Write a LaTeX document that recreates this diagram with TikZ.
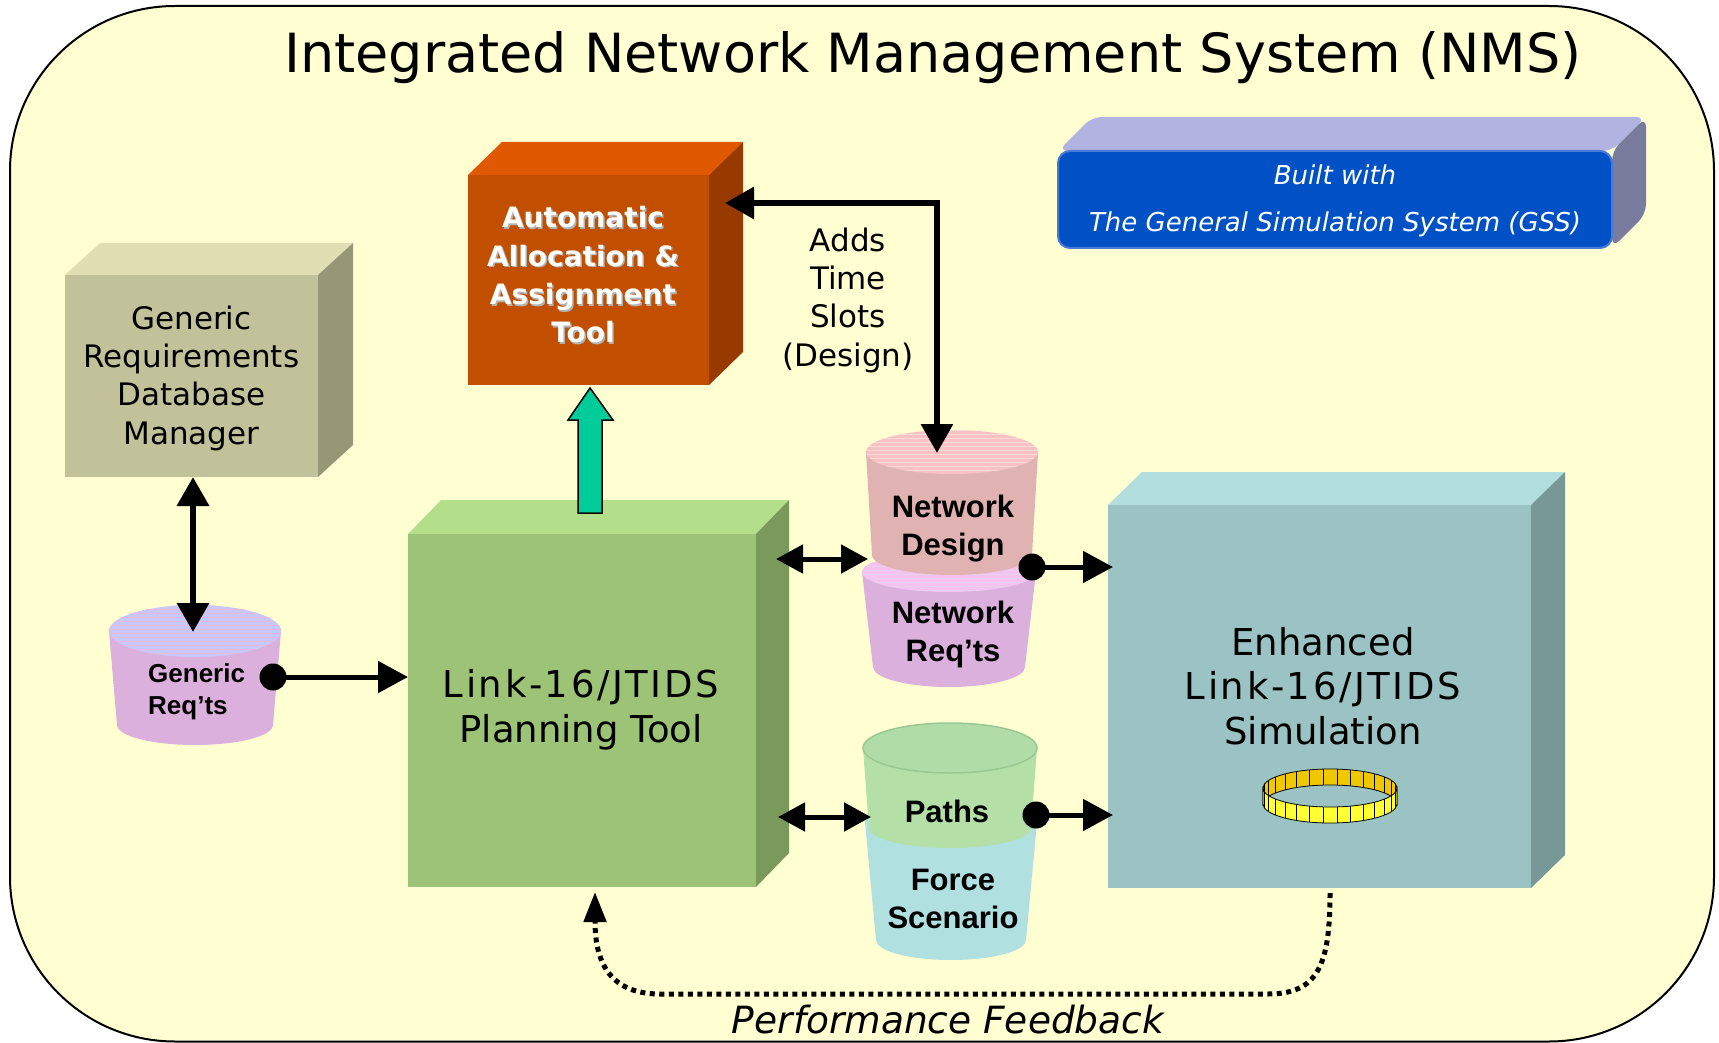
\documentclass[tikz,border=0pt]{standalone}
\usepackage{fontspec}
\setmainfont{DejaVu Sans}
\newfontfamily\arialf{Liberation Sans}
\usetikzlibrary{arrows.meta,calc}
\definecolor{bgyel}{HTML}{FFFFD2}
\definecolor{gssfront}{HTML}{0050C6}
\definecolor{gssedge}{HTML}{4A7AD8}
\definecolor{gsstop}{HTML}{B1B4E0}
\definecolor{gssside}{HTML}{7A7C9E}
\definecolor{gdbfront}{HTML}{C2C29A}
\definecolor{gdbtop}{HTML}{E0DFB4}
\definecolor{gdbside}{HTML}{979776}
\definecolor{aatfront}{HTML}{C24E00}
\definecolor{aattop}{HTML}{E05800}
\definecolor{aatside}{HTML}{983A00}
\definecolor{planfront}{HTML}{9DC476}
\definecolor{plantop}{HTML}{B3DF8A}
\definecolor{planside}{HTML}{7A9A5B}
\definecolor{simfront}{HTML}{9BC3C3}
\definecolor{simtop}{HTML}{B2DEDE}
\definecolor{simside}{HTML}{789797}
\definecolor{violbody}{HTML}{DCB0DC}
\definecolor{violtop}{HTML}{F4C2F0}
\definecolor{lavtop}{HTML}{C8C8F6}
\definecolor{lavstripe}{HTML}{E8B8E0}
\definecolor{rosebody}{HTML}{E0B2B2}
\definecolor{rosetop}{HTML}{F6C2C2}
\definecolor{rosestripe}{HTML}{FADADA}
\definecolor{greenbody}{HTML}{B4E0A8}
\definecolor{greentop}{HTML}{B0DCA8}
\definecolor{greenedge}{HTML}{98C890}
\definecolor{cyanbody}{HTML}{B0E0E0}
\definecolor{tealarrow}{HTML}{00CC99}
\definecolor{ringyel}{HTML}{FFFF33}
\definecolor{ringdark}{HTML}{F0C800}
\tikzset{
  boxfront/.style={draw=none, inner sep=0pt, outer sep=0pt},
  boxtext/.style={align=center, inner sep=0pt, font=\fontsize{31}{38.3}\selectfont},
  bigtext/.style={align=center, inner sep=0pt, font=\fontsize{37}{44.5}\selectfont},
  cyltext/.style={align=center, inner sep=0pt, font=\arialf\bfseries\fontsize{31}{38}\selectfont},
  arr/.style={line width=5pt, -{Triangle[width=31pt,length=30pt]}},
  dbl/.style={line width=5pt, {Triangle[width=28pt,length=27pt]}-{Triangle[width=28pt,length=27pt]}},
  dblbig/.style={line width=6.5pt, {Triangle[width=31pt,length=29pt]}-{Triangle[width=31pt,length=29pt]}},
  blackdot/.style={circle, fill=black, minimum size=27pt, inner sep=0pt},
  fb/.style={line width=5pt, dash pattern=on 5pt off 4.5pt, -{Triangle[width=22pt,length=30pt]}},
}
\newcommand\wideJ[1]{{\addfontfeature{LetterSpace=7}#1}}
\newcommand\conebody[8]{%
  \fill[#8] ({#1-#3},#2) -- ({#1-#6},#5)
    arc[start angle=180,end angle=0,x radius=#6,y radius=#7] -- ({#1+#3},#2) -- cycle;}
\newcommand\conetop[6]{%
  \fill[#5] (#1,#2) ellipse[x radius=#3,y radius=#4];
  \begin{scope}
    \clip (#1,#2) ellipse[x radius=#3,y radius=#4];
    \foreach \s in {-30,-26,...,30} \draw[#6,line width=1pt] ({#1-#3},{#2+\s}) -- ({#1+#3},{#2+\s});
  \end{scope}}
\begin{document}
\begin{tikzpicture}[x=1pt,y=-1pt]
\useasboundingbox (0,0) rectangle (1719,1043);
% outer frame
\draw[line width=2pt, fill=bgyel, rounded corners=165pt] (10,6) rectangle (1714,1041.5);
% title
\node[font=\fontsize{54}{60}\selectfont, anchor=base, inner sep=0pt] (title) at (933,73) {Integrated Network Management System (NMS)};

% GSS box
\fill[gsstop, rounded corners=10pt] (1058,151) -- (1092,117) -- (1646,117) -- (1612,151) -- cycle;
\fill[gssside, rounded corners=10pt] (1612,151) -- (1646,117) -- (1646,214) -- (1612,248) -- cycle;
\node[boxfront, fill=gssfront, draw=gssedge, line width=2pt, rounded corners=12pt, minimum width=554pt, minimum height=97pt] (gss) at (1335,199.5) {};
\node[align=center, inner sep=0pt, text=white, font=\itshape\fontsize{26}{47}\selectfont] (gsstext) at (1335,201) {Built with\\The General Simulation System (GSS)};

% Generic Requirements Database Manager
\fill[gdbtop] (65,275) -- (100,243) -- (353,243) -- (318,275) -- cycle;
\fill[gdbside] (318,275) -- (353,243) -- (353,445) -- (318,477) -- cycle;
\node[boxfront, fill=gdbfront, minimum width=253pt, minimum height=202pt] (gdb) at (191.5,376) {};
\node[boxtext] (gdbtext) at (191.5,378) {Generic\\Requirements\\Database\\Manager};

% Automatic Allocation & Assignment Tool
\fill[aattop] (468,175) -- (502,142) -- (743,142) -- (709,175) -- cycle;
\fill[aatside] (709,175) -- (743,142) -- (743,352) -- (709,385) -- cycle;
\node[boxfront, fill=aatfront, minimum width=241pt, minimum height=210pt] (aat) at (588.5,280) {};
\node[align=center, inner sep=0pt, text=black!30, font=\bfseries\fontsize{28}{38.3}\selectfont] (aatshadow) at (584.5,276.5) {Automatic\\Allocation \&\\Assignment\\Tool};
\node[align=center, inner sep=0pt, text=white, font=\bfseries\fontsize{28}{38.3}\selectfont] (aattext) at (583,275) {Automatic\\Allocation \&\\Assignment\\Tool};

% Planning tool
\fill[plantop] (408,534) -- (441,500) -- (789,500) -- (756,534) -- cycle;
\fill[planside] (756,534) -- (789,500) -- (789,853) -- (756,887) -- cycle;
\node[boxfront, fill=planfront, minimum width=348pt, minimum height=353pt] (plan) at (582,710.5) {};
\node[bigtext] (plantext) at (581,710) {\wideJ{Link-16/JTIDS}\\Planning Tool};

% Simulation
\fill[simtop] (1108,505) -- (1142,472) -- (1565,472) -- (1531,505) -- cycle;
\fill[simside] (1531,505) -- (1565,472) -- (1565,855) -- (1531,888) -- cycle;
\node[boxfront, fill=simfront, minimum width=423pt, minimum height=383pt] (sim) at (1319.5,696.5) {};
\node[bigtext] (simtext) at (1323,686) {Enhanced\\\wideJ{Link-16/JTIDS}\\Simulation};
% ring
\filldraw[fill=ringdark, draw=black, line width=0.8pt] (1263,788) arc[start angle=180,end angle=360,x radius=67,y radius=19] -- (1397,804) arc[start angle=360,end angle=180,x radius=67,y radius=19] -- cycle;
\foreach \a in {192,204,...,348} \draw[line width=0.8pt] ({1330+67*cos(\a)},{788+19*sin(\a)}) -- ++(0,16);
\filldraw[fill=ringyel, draw=black, line width=0.8pt] (1263,788) arc[start angle=180,end angle=0,x radius=67,y radius=19] -- (1397,804) arc[start angle=0,end angle=180,x radius=67,y radius=19] -- cycle;
\foreach \a in {12,24,...,168} \draw[line width=0.8pt] ({1330+67*cos(\a)},{788+19*sin(\a)}) -- ++(0,16);

% Generic Req'ts cylinder
\conebody{195}{631}{86}{26}{725}{78}{20}{violbody}
\conetop{195}{631}{86}{26}{lavtop}{lavstripe}
\node[cyltext, align=left, anchor=west, font=\arialf\bfseries\fontsize{26}{32}\selectfont] (grtext) at (148,692) {Generic\\Req’ts};

% Network Req'ts (lower) and Network Design (upper)
\conebody{949}{572}{87}{20}{667}{76}{20}{violbody}
\conetop{949}{572}{87}{20}{violtop}{violbody!60!white}
\conebody{952}{452}{86}{22}{555}{80}{20}{rosebody}
\conetop{952}{452}{86}{22}{rosetop}{rosestripe}
\node[cyltext] (ndtext) at (953,529) {Network\\Design};
\node[cyltext] (nrtext) at (953,634) {Network\\Req’ts};

% Force Scenario (lower) and Paths (upper)
\conebody{951}{822}{86}{20}{940}{75}{20}{cyanbody}
\fill[cyanbody] (951,822) ellipse[x radius=86,y radius=20];
\conebody{950}{748}{87}{25}{828}{81}{20}{greenbody}
\filldraw[fill=greentop, draw=greenedge, line width=1.5pt] (950,748) ellipse[x radius=87,y radius=25];
\node[cyltext] (pathstext) at (947,811) {Paths};
\node[cyltext] (forcetext) at (953,899) {Force\\Scenario};

% Adds time slots label
\node[boxtext] (addstext) at (848,300) {Adds\\Time\\Slots\\(Design)};

% coordinates
\coordinate (grtop) at (193,632);
\coordinate (plR1) at (776,559);
\coordinate (ndL) at (868,559);
\coordinate (plR2) at (778,817);
\coordinate (pathsL) at (871,817);
\coordinate (aatin) at (725,203);
\coordinate (ndtop) at (937,453);
\coordinate (gbase) at (590,513);
\coordinate (gtip) at (590,388);
\coordinate (fbs) at (1330,893);
\coordinate (fbe) at (595,892);

% connectors
\draw[dblbig] (gdb.south -| grtop) -- (grtop);
\node[blackdot] (grdot) at (273,677) {};
\draw[arr] (grdot.center) -- (grdot -| plan.west);
\draw[dbl] (plR1) -- (ndL);
\draw[dbl] (plR2) -- (pathsL);
\node[blackdot] (nddot) at (1032,567) {};
\draw[arr] (nddot.center) -- ($(nddot -| sim.west)+(5,0)$);
\node[blackdot] (pdot) at (1036,815) {};
\draw[arr] (pdot.center) -- ($(pdot -| sim.west)+(5,0)$);
\draw[dblbig, line width=6pt] (aatin) -| (ndtop);
% green block arrow
\filldraw[fill=tealarrow, draw=black, line width=1.5pt, line join=miter]
  ($(gbase)+(-12,0)$) -- ($(gtip)+(-12,32)$) -- ($(gtip)+(-22,32)$) -- (gtip)
  -- ($(gtip)+(23,32)$) -- ($(gtip)+(12,32)$) -- ($(gbase)+(12,0)$) -- cycle;
% feedback
\draw[fb] (fbs) .. controls (1330,965) and (1318,994) .. (1268,994) -- (660,994) .. controls (608,994) and (595,960) .. (fbe);
\node[font=\itshape\fontsize{37.5}{40}\selectfont, anchor=base, inner sep=0pt] (pftext) at (948,1033) {Performance Feedback};
\end{tikzpicture}
\end{document}
